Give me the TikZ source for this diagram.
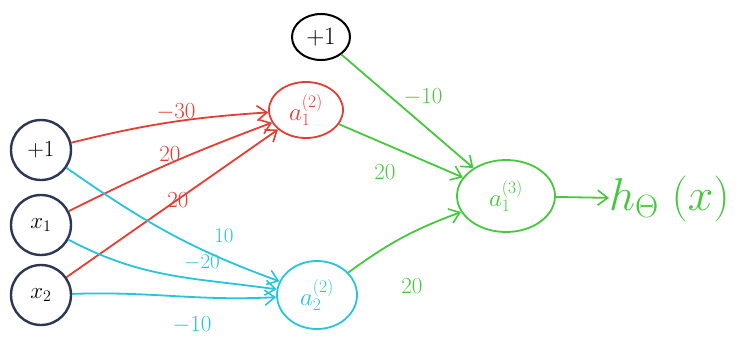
\RequirePackage{fix-cm}
\documentclass[tikz,border=0pt]{standalone}
\usetikzlibrary{arrows.meta,shapes.geometric}
\definecolor{navy}{RGB}{45,55,85}
\definecolor{hred}{RGB}{228,62,52}
\definecolor{hcyan}{RGB}{40,196,218}
\definecolor{hgreen}{RGB}{70,200,60}
\begin{document}
\begin{tikzpicture}[x=1pt,y=-1pt,
  inp/.style={circle,draw=navy,line width=2.4pt,minimum size=60pt,inner sep=0pt,font=\fontsize{23}{26}\selectfont},
  hid/.style={ellipse,line width=1.8pt,inner sep=0pt,font=\fontsize{25}{28}\selectfont},
  wire/.style={line width=1.8pt,-{Straight Barb[length=10pt,width=15pt,line width=1.6pt]}},
  wlab/.style={font=\fontsize{23}{26}\selectfont,inner sep=1pt},
  slab/.style={font=\fontsize{21}{24}\selectfont,inner sep=0pt}]
\useasboundingbox (0,0) rectangle (742,338);
% input layer
\node[inp] (b1) at (41,150) {$+1$};
\node[inp] (x1) at (41,225) {$x_1$};
\node[inp] (x2) at (41,295) {$x_2$};
% hidden layer
\node[hid,draw=hred,text=hred,minimum width=74pt,minimum height=56pt] (a1) at (306,110) {$a_1^{(2)}$};
\node[hid,draw=hcyan,text=hcyan,minimum width=80pt,minimum height=68pt] (a2) at (317,295) {$a_2^{(2)}$};
\node[hid,draw=black,minimum width=58pt,minimum height=46pt,line width=2pt] (b2) at (321,37) {$+1$};
% output
\node[hid,draw=hgreen,text=hgreen,minimum width=98pt,minimum height=72pt] (a3) at (506,196) {$a_1^{(3)}$};
\node[text=hgreen,anchor=west,inner sep=0pt,font=\fontsize{46}{50}\selectfont] (h) at (609,199) {$h_{\Theta}\;(x)$};
% red wires
\draw[wire,hred] (b1) to[bend left=5] (a1);
\draw[wire,hred] (x1) to[bend left=3] (a1);
\draw[wire,hred] (x2) to (a1);
% cyan wires
\draw[wire,hcyan] (b1) to[out=-35,in=160] (a2);
\draw[wire,hcyan] (x1) to[out=-28,in=172] (a2);
\draw[wire,hcyan] (x2) to[out=2,in=183] (a2);
% green wires
\draw[wire,hgreen] (b2) to (a3);
\draw[wire,hgreen] (a1) to (a3);
\draw[wire,hgreen] (a2) to[bend left=8] (a3);
\draw[wire,hgreen] (a3) to (h);
% labels
\node[wlab,text=hred] (l1) at (176,112) {$-30$};
\node[wlab,text=hred] (l2) at (170,154) {$20$};
\node[wlab,text=hred] (l3) at (178,200) {$20$};
\node[slab,text=hcyan] (l4) at (224,236) {$10$};
\node[slab,text=hcyan] (l5) at (202,263) {$-20$};
\node[wlab,text=hcyan] (l6) at (192,325) {$-10$};
\node[wlab,text=hgreen] (l7) at (423,97) {$-10$};
\node[wlab,text=hgreen] (l8) at (385,172) {$20$};
\node[wlab,text=hgreen] (l9) at (412,286) {$20$};
\end{tikzpicture}
\end{document}
